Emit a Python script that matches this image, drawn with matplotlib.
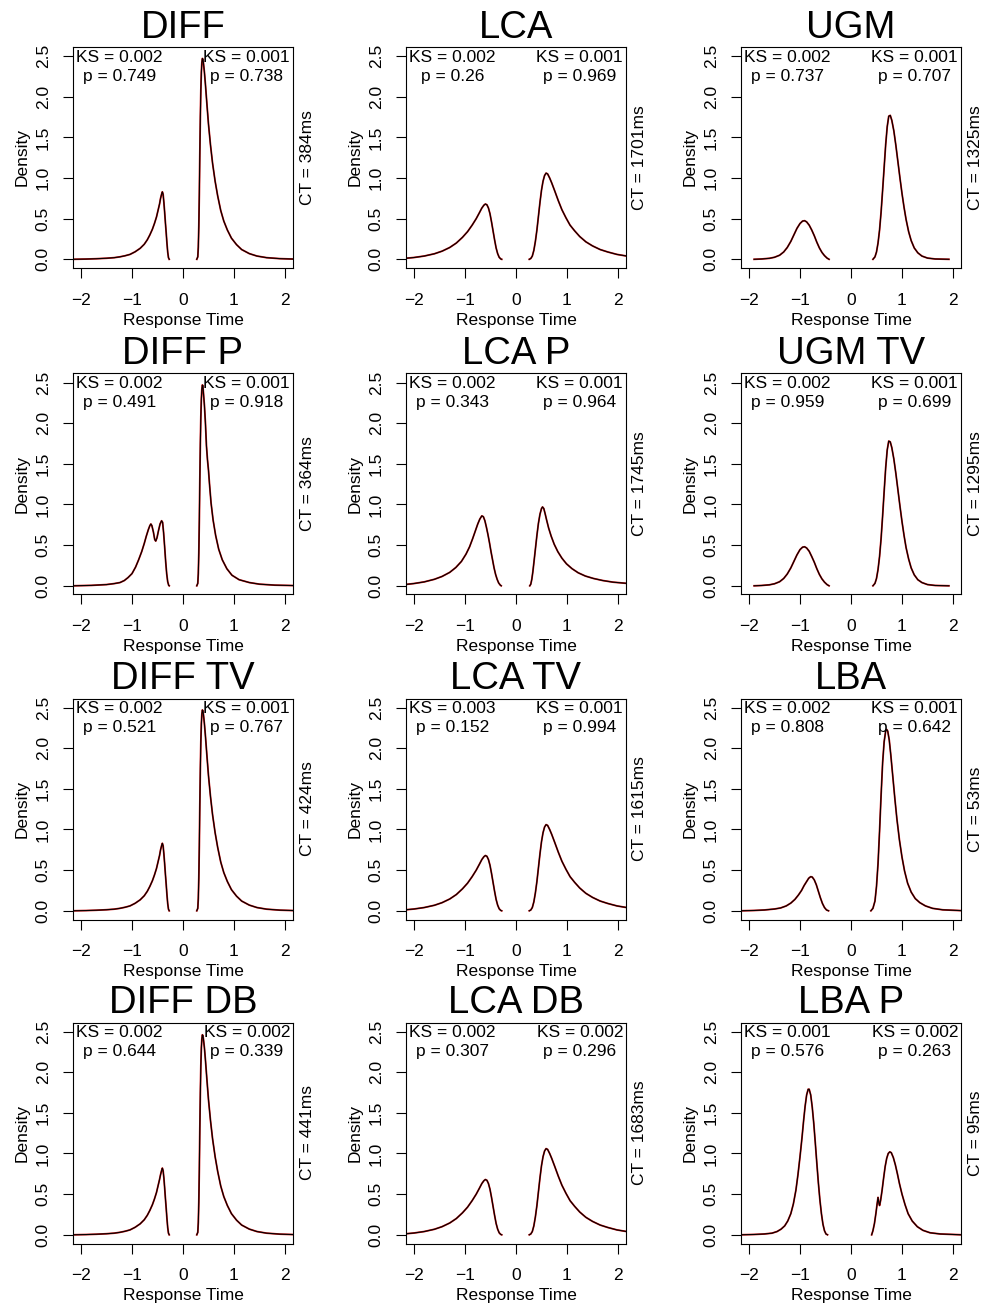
import matplotlib
matplotlib.use("Agg")
import matplotlib.pyplot as plt

plt.rcParams['font.family'] = ['Liberation Sans', 'DejaVu Sans']

# ---------------- data ----------------
titles = ["DIFF", "LCA", "UGM",
          "DIFF P", "LCA P", "UGM TV",
          "DIFF TV", "LCA TV", "LBA",
          "DIFF DB", "LCA DB", "LBA P"]
ct_ms = [384, 1701, 1325, 364, 1745, 1295, 424, 1615, 53, 441, 1683, 95]
ks_left = ["0.002", "0.002", "0.002", "0.002", "0.002", "0.002",
           "0.002", "0.003", "0.002", "0.002", "0.002", "0.001"]
p_left = ["0.749", "0.26", "0.737", "0.491", "0.343", "0.959",
          "0.521", "0.152", "0.808", "0.644", "0.307", "0.576"]
ks_right = ["0.001", "0.001", "0.001", "0.001", "0.001", "0.001",
            "0.001", "0.001", "0.001", "0.002", "0.002", "0.002"]
p_right = ["0.738", "0.969", "0.707", "0.918", "0.964", "0.699",
           "0.767", "0.994", "0.642", "0.339", "0.296", "0.263"]

x_ticks = [-2, -1, 0, 1, 2]
x_tick_labels = ["\u22122", "\u22121", "0", "1", "2"]
y_ticks = [0.0, 0.5, 1.0, 1.5, 2.0, 2.5]
y_tick_labels = ["0.0", "0.5", "1.0", "1.5", "2.0", "2.5"]

# DIFF family (error = negative RT, correct = positive RT)
diff_err_x = [-2.16, -1.9, -1.7, -1.5, -1.35, -1.24, -1.14, -1.04, -0.94, -0.84,
              -0.76, -0.70, -0.65, -0.60, -0.56, -0.52, -0.49, -0.46, -0.44, -0.42,
              -0.405, -0.39, -0.375, -0.36, -0.345, -0.33, -0.315, -0.30, -0.285, -0.27]
diff_err_y = [0.0, 0.003, 0.007, 0.013, 0.02, 0.03, 0.043, 0.06, 0.092, 0.135,
              0.185, 0.24, 0.30, 0.37, 0.44, 0.52, 0.60, 0.68, 0.75, 0.80,
              0.83, 0.80, 0.70, 0.58, 0.45, 0.33, 0.20, 0.09, 0.02, 0.0]
diff_cor_x = [0.27, 0.29, 0.30, 0.31, 0.32, 0.33, 0.34, 0.35, 0.36, 0.37,
              0.38, 0.39, 0.40, 0.42, 0.44, 0.47, 0.50, 0.54, 0.58, 0.63,
              0.68, 0.74, 0.80, 0.87, 0.95, 1.05, 1.15, 1.3, 1.45, 1.64,
              1.9, 2.16]
diff_cor_y = [0.0, 0.03, 0.15, 0.4, 0.8, 1.3, 1.75, 2.08, 2.3, 2.42,
              2.47, 2.46, 2.42, 2.3, 2.15, 1.9, 1.66, 1.40, 1.18, 0.96,
              0.78, 0.60, 0.47, 0.36, 0.26, 0.18, 0.12, 0.07, 0.04, 0.02,
              0.008, 0.003]

diffp_err_x = [-2.16, -1.8, -1.5, -1.35, -1.235, -1.15, -1.08, -1.0, -0.93, -0.87,
               -0.81, -0.76, -0.72, -0.68, -0.65, -0.63, -0.61, -0.58, -0.555, -0.535,
               -0.51, -0.48, -0.45, -0.42, -0.40, -0.38, -0.36, -0.34, -0.32, -0.30,
               -0.28, -0.27]
diffp_err_y = [0.0, 0.005, 0.015, 0.027, 0.04, 0.065, 0.1, 0.15, 0.23, 0.32,
               0.42, 0.52, 0.61, 0.69, 0.74, 0.76, 0.74, 0.66, 0.57, 0.55,
               0.59, 0.68, 0.76, 0.80, 0.78, 0.65, 0.48, 0.30, 0.15, 0.05,
               0.005, 0.0]
diffp_cor_x = [0.27, 0.29, 0.30, 0.31, 0.32, 0.33, 0.34, 0.35, 0.36, 0.37,
               0.38, 0.39, 0.40, 0.42, 0.44, 0.46, 0.48, 0.50, 0.52, 0.55,
               0.59, 0.64, 0.70, 0.77, 0.86, 0.96, 1.1, 1.3, 1.5, 1.8,
               2.16]
diffp_cor_y = [0.0, 0.03, 0.15, 0.4, 0.8, 1.3, 1.75, 2.08, 2.3, 2.42,
               2.47, 2.46, 2.38, 2.22, 2.0, 1.72, 1.55, 1.42, 1.25, 1.02,
               0.81, 0.62, 0.45, 0.32, 0.21, 0.13, 0.075, 0.04, 0.02, 0.008,
               0.003]

difftv_err_x = diff_err_x
difftv_err_y = diff_err_y
difftv_cor_x = diff_cor_x
difftv_cor_y = diff_cor_y

diffdb_err_x = diff_err_x
diffdb_err_y = [0.0, 0.003, 0.007, 0.013, 0.02, 0.03, 0.043, 0.06, 0.092, 0.135,
                0.185, 0.24, 0.30, 0.37, 0.44, 0.52, 0.60, 0.68, 0.74, 0.79,
                0.82, 0.79, 0.70, 0.58, 0.45, 0.33, 0.20, 0.09, 0.02, 0.0]
diffdb_cor_x = diff_cor_x
diffdb_cor_y = [0.0, 0.03, 0.15, 0.4, 0.8, 1.3, 1.75, 2.08, 2.3, 2.41,
                2.46, 2.45, 2.41, 2.3, 2.15, 1.9, 1.66, 1.40, 1.18, 0.96,
                0.78, 0.60, 0.47, 0.36, 0.26, 0.18, 0.12, 0.07, 0.04, 0.02,
                0.008, 0.003]

# LCA family
lca_err_x = [-2.17, -2.0, -1.8, -1.6, -1.45, -1.3, -1.17, -1.05, -0.95, -0.86,
             -0.78, -0.72, -0.67, -0.63, -0.60, -0.57, -0.54, -0.51, -0.48, -0.45,
             -0.42, -0.39, -0.36, -0.33, -0.30, -0.28]
lca_err_y = [0.012, 0.022, 0.04, 0.068, 0.1, 0.145, 0.2, 0.27, 0.34, 0.42,
             0.5, 0.57, 0.63, 0.665, 0.68, 0.67, 0.63, 0.56, 0.46, 0.35,
             0.24, 0.14, 0.07, 0.025, 0.005, 0.0]
lca_cor_x = [0.26, 0.29, 0.32, 0.35, 0.38, 0.41, 0.44, 0.47, 0.50, 0.53,
             0.56, 0.59, 0.62, 0.66, 0.70, 0.76, 0.83, 0.90, 0.98, 1.06,
             1.15, 1.25, 1.37, 1.5, 1.65, 1.8, 1.98, 2.17]
lca_cor_y = [0.0, 0.01, 0.04, 0.11, 0.22, 0.36, 0.53, 0.70, 0.85, 0.96,
             1.03, 1.06, 1.05, 1.00, 0.94, 0.84, 0.72, 0.61, 0.51, 0.42,
             0.35, 0.28, 0.215, 0.165, 0.12, 0.09, 0.06, 0.04]

lcap_err_x = [-2.17, -2.0, -1.8, -1.6, -1.45, -1.3, -1.18, -1.07, -0.98, -0.91,
              -0.85, -0.80, -0.75, -0.71, -0.67, -0.64, -0.61, -0.58, -0.55, -0.52,
              -0.49, -0.46, -0.43, -0.40, -0.37, -0.34, -0.31, -0.29]
lcap_err_y = [0.016, 0.028, 0.048, 0.08, 0.115, 0.165, 0.225, 0.3, 0.39, 0.48,
              0.58, 0.67, 0.76, 0.82, 0.86, 0.85, 0.80, 0.72, 0.63, 0.53,
              0.42, 0.32, 0.22, 0.14, 0.08, 0.035, 0.01, 0.0]
lcap_cor_x = [0.27, 0.29, 0.31, 0.33, 0.35, 0.38, 0.41, 0.44, 0.47, 0.50,
              0.52, 0.545, 0.57, 0.60, 0.64, 0.69, 0.75, 0.82, 0.90, 0.99,
              1.1, 1.22, 1.36, 1.52, 1.7, 1.9, 2.17]
lcap_cor_y = [0.0, 0.02, 0.08, 0.17, 0.28, 0.45, 0.62, 0.77, 0.88, 0.95,
              0.97, 0.95, 0.89, 0.81, 0.71, 0.61, 0.51, 0.42, 0.34, 0.27,
              0.21, 0.16, 0.12, 0.09, 0.065, 0.045, 0.03]

lcatv_err_x = lca_err_x
lcatv_err_y = lca_err_y
lcatv_cor_x = lca_cor_x
lcatv_cor_y = lca_cor_y

lcadb_err_x = lca_err_x
lcadb_err_y = lca_err_y
lcadb_cor_x = lca_cor_x
lcadb_cor_y = lca_cor_y

# UGM family
ugm_err_x = [-1.90, -1.75, -1.6, -1.5, -1.4, -1.32, -1.25, -1.18, -1.12, -1.06,
             -1.0, -0.95, -0.91, -0.87, -0.82, -0.77, -0.72, -0.67, -0.62, -0.57,
             -0.52, -0.47, -0.43]
ugm_err_y = [0.0, 0.004, 0.012, 0.025, 0.05, 0.09, 0.145, 0.22, 0.30, 0.38,
             0.44, 0.47, 0.475, 0.46, 0.42, 0.36, 0.29, 0.21, 0.14, 0.085,
             0.045, 0.015, 0.0]
ugm_cor_x = [0.43, 0.47, 0.50, 0.53, 0.56, 0.59, 0.62, 0.65, 0.68, 0.71,
             0.74, 0.77, 0.80, 0.84, 0.88, 0.92, 0.96, 1.00, 1.04, 1.08,
             1.13, 1.18, 1.24, 1.31, 1.39, 1.5, 1.65, 1.92]
ugm_cor_y = [0.0, 0.03, 0.09, 0.2, 0.36, 0.58, 0.85, 1.13, 1.41, 1.63,
             1.76, 1.77, 1.71, 1.58, 1.40, 1.2, 1.0, 0.81, 0.64, 0.49,
             0.34, 0.23, 0.14, 0.08, 0.04, 0.015, 0.004, 0.0]

ugmtv_err_x = ugm_err_x
ugmtv_err_y = [0.0, 0.004, 0.012, 0.025, 0.05, 0.09, 0.145, 0.22, 0.30, 0.38,
               0.445, 0.475, 0.48, 0.465, 0.425, 0.36, 0.29, 0.21, 0.14, 0.085,
               0.045, 0.015, 0.0]
ugmtv_cor_x = ugm_cor_x
ugmtv_cor_y = [0.0, 0.03, 0.09, 0.2, 0.36, 0.58, 0.86, 1.16, 1.45, 1.67,
               1.78, 1.77, 1.70, 1.56, 1.38, 1.18, 0.98, 0.79, 0.62, 0.47,
               0.33, 0.22, 0.135, 0.075, 0.04, 0.015, 0.004, 0.0]

# LBA family
lba_err_x = [-2.17, -1.9, -1.7, -1.5, -1.38, -1.27, -1.18, -1.1, -1.03, -0.97,
             -0.92, -0.87, -0.83, -0.79, -0.76, -0.72, -0.68, -0.64, -0.60, -0.56,
             -0.52, -0.48, -0.44]
lba_err_y = [0.0, 0.004, 0.01, 0.022, 0.035, 0.06, 0.095, 0.14, 0.195, 0.25,
             0.31, 0.36, 0.40, 0.42, 0.415, 0.38, 0.32, 0.24, 0.16, 0.09,
             0.04, 0.01, 0.0]
lba_cor_x = [0.39, 0.43, 0.47, 0.50, 0.53, 0.56, 0.59, 0.62, 0.65, 0.68,
             0.70, 0.72, 0.75, 0.78, 0.82, 0.86, 0.90, 0.95, 1.0, 1.05,
             1.11, 1.18, 1.26, 1.35, 1.46, 1.6, 1.8, 2.17]
lba_cor_y = [0.0, 0.03, 0.12, 0.3, 0.58, 0.98, 1.42, 1.82, 2.08, 2.21,
             2.23, 2.21, 2.10, 1.92, 1.65, 1.38, 1.13, 0.87, 0.66, 0.49,
             0.34, 0.23, 0.15, 0.1, 0.06, 0.03, 0.012, 0.002]

lbap_err_x = [-2.17, -1.9, -1.7, -1.55, -1.45, -1.37, -1.3, -1.24, -1.18, -1.13,
              -1.08, -1.04, -1.0, -0.96, -0.93, -0.90, -0.87, -0.84, -0.82, -0.79,
              -0.76, -0.73, -0.70, -0.67, -0.64, -0.61, -0.58, -0.55, -0.52, -0.49,
              -0.46]
lbap_err_y = [0.0, 0.004, 0.01, 0.02, 0.04, 0.07, 0.11, 0.17, 0.26, 0.38,
              0.55, 0.74, 0.96, 1.2, 1.4, 1.58, 1.72, 1.79, 1.79, 1.72,
              1.57, 1.37, 1.13, 0.88, 0.64, 0.43, 0.26, 0.13, 0.05, 0.01,
              0.0]
lbap_cor_x = [0.405, 0.43, 0.46, 0.49, 0.51, 0.53, 0.545, 0.56, 0.58, 0.61,
              0.64, 0.67, 0.70, 0.73, 0.76, 0.79, 0.83, 0.87, 0.91, 0.95,
              1.0, 1.06, 1.12, 1.2, 1.3, 1.41, 1.55, 1.75, 2.17]
lbap_cor_y = [0.0, 0.05, 0.14, 0.27, 0.37, 0.46, 0.40, 0.36, 0.42, 0.55,
              0.70, 0.84, 0.94, 1.0, 1.02, 1.01, 0.95, 0.86, 0.75, 0.63,
              0.5, 0.37, 0.26, 0.17, 0.1, 0.055, 0.025, 0.01, 0.0]

curves = [
    (diff_err_x, diff_err_y, diff_cor_x, diff_cor_y),
    (lca_err_x, lca_err_y, lca_cor_x, lca_cor_y),
    (ugm_err_x, ugm_err_y, ugm_cor_x, ugm_cor_y),
    (diffp_err_x, diffp_err_y, diffp_cor_x, diffp_cor_y),
    (lcap_err_x, lcap_err_y, lcap_cor_x, lcap_cor_y),
    (ugmtv_err_x, ugmtv_err_y, ugmtv_cor_x, ugmtv_cor_y),
    (difftv_err_x, difftv_err_y, difftv_cor_x, difftv_cor_y),
    (lcatv_err_x, lcatv_err_y, lcatv_cor_x, lcatv_cor_y),
    (lba_err_x, lba_err_y, lba_cor_x, lba_cor_y),
    (diffdb_err_x, diffdb_err_y, diffdb_cor_x, diffdb_cor_y),
    (lcadb_err_x, lcadb_err_y, lcadb_cor_x, lcadb_cor_y),
    (lbap_err_x, lbap_err_y, lbap_cor_x, lbap_cor_y),
]

# ---------------- layout ----------------
FW, FH = 986, 1305
fig = plt.figure(figsize=(FW / 100, FH / 100), dpi=100)
col_left = [73, 406, 741]
row_top = [47, 373.5, 698.5, 1022.5]
AW, AH = 220, 221
FS = 12.5

for i, title in enumerate(titles):
    r, c = divmod(i, 3)
    l, t = col_left[c], row_top[r]
    ax = fig.add_axes([l / FW, 1 - (t + AH) / FH, AW / FW, AH / FH])
    ex, ey, cx, cy = curves[i]
    for xs, ys in ((ex, ey), (cx, cy)):
        ax.plot(xs, ys, color="#cc1111", lw=1.3, solid_joinstyle="round")
        ax.plot(xs, ys, color="black", lw=0.8, solid_joinstyle="round")
    ax.set_xlim(-2.157, 2.157)
    ax.set_ylim(-0.107, 2.611)
    ax.set_xticks(x_ticks)
    ax.set_xticklabels(x_tick_labels)
    ax.set_yticks(y_ticks)
    ax.set_yticklabels(y_tick_labels, rotation=90, va="center")
    ax.tick_params(direction="out", length=7, width=0.8, labelsize=FS, colors="black")
    ax.tick_params(axis="x", pad=11)
    ax.tick_params(axis="y", pad=9)
    for s in ax.spines.values():
        s.set_linewidth(0.8)
        s.set_color("black")
    ax.set_title(title, fontsize=27.5, pad=6.5)
    ax.set_xlabel("Response Time", fontsize=FS)
    ax.xaxis.set_label_coords(0.5, -52 / AH)
    ax.xaxis.label.set_va("center")
    ax.set_ylabel("Density", fontsize=FS)
    ax.yaxis.set_label_coords(-51 / AW, 0.5)
    ax.yaxis.label.set_va("center")
    ax.text(1 + 14 / AW, 0.5, f"CT = {ct_ms[i]}ms", transform=ax.transAxes,
            rotation=90, ha="center", va="center", fontsize=FS)
    ax.text(0.21, 1 - 10 / AH, f"KS = {ks_left[i]}", transform=ax.transAxes,
            ha="center", va="center", fontsize=FS)
    ax.text(0.21, 1 - 29 / AH, f"p = {p_left[i]}", transform=ax.transAxes,
            ha="center", va="center", fontsize=FS)
    ax.text(0.79, 1 - 10 / AH, f"KS = {ks_right[i]}", transform=ax.transAxes,
            ha="center", va="center", fontsize=FS)
    ax.text(0.79, 1 - 29 / AH, f"p = {p_right[i]}", transform=ax.transAxes,
            ha="center", va="center", fontsize=FS)

fig.savefig("out.png", dpi=100)
